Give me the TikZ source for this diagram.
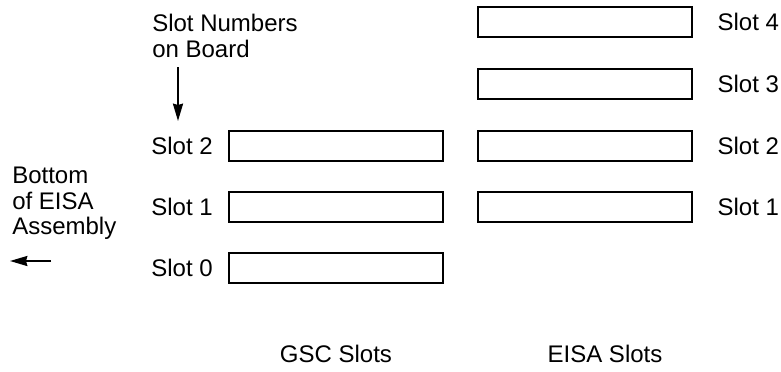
\documentclass[tikz,border=0pt]{standalone}
\usepackage{fontspec}
\setmainfont{Liberation Sans}
\usetikzlibrary{arrows.meta,positioning}

\begin{document}
\begin{tikzpicture}[x=0.75pt,y=-0.75pt,
  slotbox/.style={draw,line width=1.5pt,minimum width=161pt,minimum height=22.5pt,inner sep=0pt},
  lbl/.style={font=\fontsize{18}{19.2}\selectfont,inner sep=0pt,align=left},
  arr/.style={line width=1.5pt,-{Stealth[length=13pt,width=7.5pt,inset=1pt]}}]
\useasboundingbox (0,0) rectangle (781,371);

% GSC slots
\node[slotbox] (gsc2) at (336,146) {};
\node[slotbox] (gsc1) at (336,207) {};
\node[slotbox] (gsc0) at (336,268) {};
\node[lbl,left=11pt of gsc2] (lgsc2) {Slot 2};
\node[lbl,left=11pt of gsc1] (lgsc1) {Slot 1};
\node[lbl,left=11pt of gsc0] (lgsc0) {Slot 0};

% EISA slots
\node[slotbox] (eisa4) at (585,22) {};
\node[slotbox] (eisa3) at (585,83.5) {};
\node[slotbox] (eisa2) at (585,146) {};
\node[slotbox] (eisa1) at (585,207) {};
\node[lbl,right=18pt of eisa4] (leisa4) {Slot 4};
\node[lbl,right=18pt of eisa3] (leisa3) {Slot 3};
\node[lbl,right=18pt of eisa2] (leisa2) {Slot 2};
\node[lbl,right=18pt of eisa1] (leisa1) {Slot 1};

% Captions
\node[lbl,anchor=north west] (numbers) at (152,14) {Slot Numbers\\on Board};
\node[lbl,anchor=north west] (bottom) at (12,167) {Bottom\\of EISA\\Assembly};
\node[lbl] (gsccap) at (336,354) {GSC Slots};
\node[lbl] (eisacap) at (605,354) {EISA Slots};

% Arrows
\coordinate (numtail) at (178,67);
\coordinate (numtip) at (178,121);
\draw[arr] (numtail) -- (numtip);
\coordinate (bottail) at (51,261);
\coordinate (bottip) at (10,261);
\draw[arr] (bottail) -- (bottip);
\end{tikzpicture}
\end{document}
